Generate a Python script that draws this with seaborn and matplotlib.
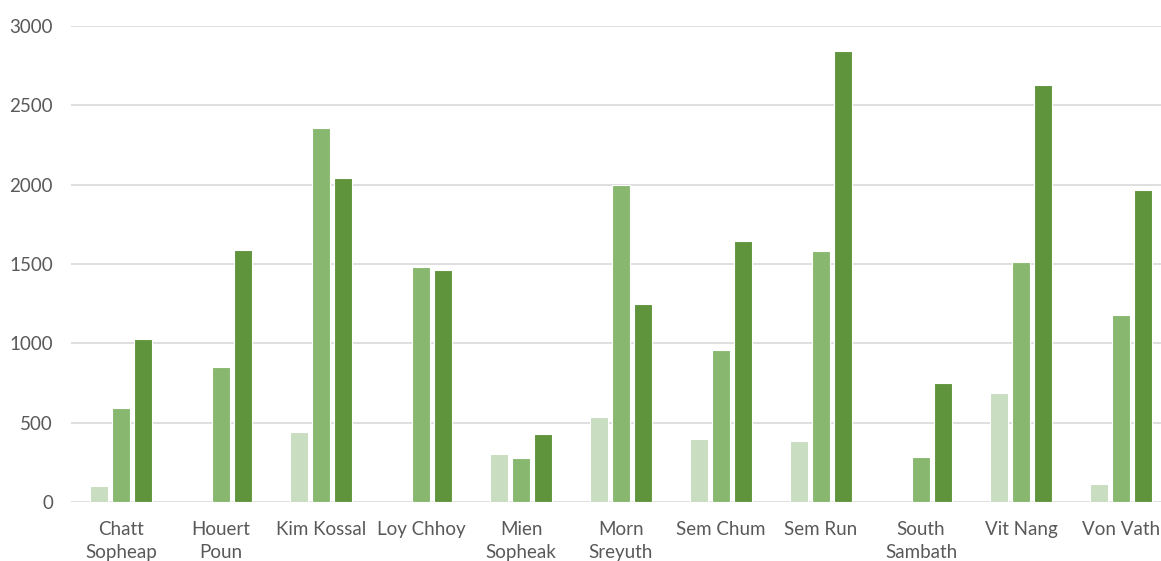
import seaborn as sns
import matplotlib.pyplot as plt
import pandas as pd

# data
names = ["Chatt\nSopheap", "Houert\nPoun", "Kim Kossal", "Loy Chhoy", "Mien\nSopheak",
         "Morn\nSreyuth", "Sem Chum", "Sem Run", "South\nSambath", "Vit Nang", "Von Vath"]
series1 = [100, 0, 440, 0, 300, 535, 395, 385, 0, 690, 115]
series2 = [590, 850, 2360, 1480, 275, 2000, 955, 1580, 285, 1515, 1180]
series3 = [1030, 1590, 2040, 1460, 430, 1245, 1645, 2845, 750, 2630, 1965]
series_names = ["Series1", "Series2", "Series3"]
colors = ["#C9DDC1", "#88B86F", "#60943C"]

rows = []
for s, vals in zip(series_names, [series1, series2, series3]):
    for n, v in zip(names, vals):
        rows.append({"name": n, "series": s, "value": v})
df = pd.DataFrame(rows)

sns.set_style("white")
plt.rcParams["font.family"] = ["Lato", "DejaVu Sans"]

fig = plt.figure(figsize=(11.61, 5.61), dpi=100)
ax = fig.add_axes([71 / 1161, (561 - 502) / 561, 1100 / 1161, 476 / 561])

sns.barplot(data=df, x="name", y="value", hue="series", palette=colors,
            saturation=1, width=0.66, gap=0.18, edgecolor="white", linewidth=0.8,
            legend=False, ax=ax)

ax.set_ylim(0, 3000)
ax.set_xlim(-0.5, 10.5)
ax.set_yticks(range(0, 3001, 500))
ax.yaxis.grid(True, color="#D9D9D9", linewidth=1.2)
ax.set_axisbelow(True)
for sp in ax.spines.values():
    sp.set_visible(False)
ax.set_xlabel("")
ax.set_ylabel("")
ax.tick_params(axis="both", length=0, labelsize=13.5, colors="#595959")
ax.tick_params(axis="y", pad=13)
ax.tick_params(axis="x", pad=13.5)
for lbl in ax.get_xticklabels():
    lbl.set_linespacing(1.45)

fig.savefig("out.png", dpi=100)
